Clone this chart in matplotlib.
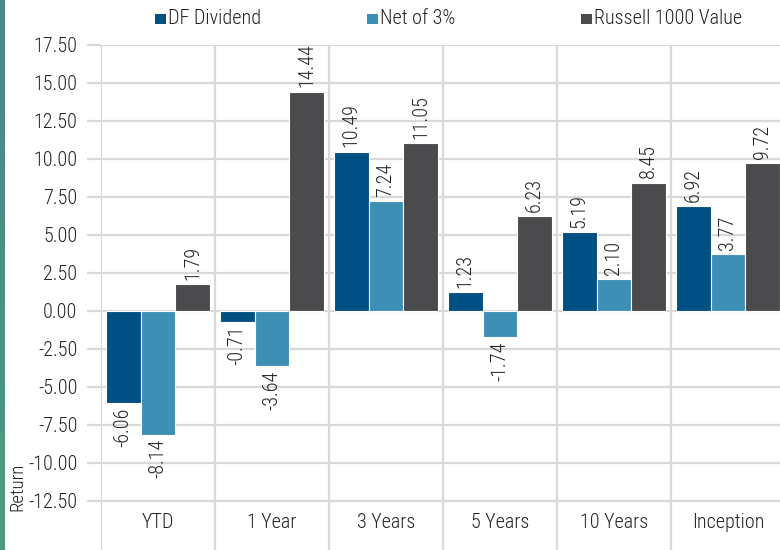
import numpy as np
import matplotlib
matplotlib.use("Agg")
import matplotlib.pyplot as plt
from matplotlib import font_manager
from matplotlib.patches import Rectangle

# ---------------- Data ----------------
categories = ["YTD", "1 Year", "3 Years", "5 Years", "10 Years", "Inception"]
series_names = ["DF Dividend", "Net of 3%", "Russell 1000 Value"]
df_dividend = [-6.06, -0.71, 10.49, 1.23, 5.19, 6.92]
net_of_3 = [-8.14, -3.64, 7.24, -1.74, 2.10, 3.77]
russell_value = [1.79, 14.44, 11.05, 6.23, 8.45, 9.72]
yticks = [-12.5, -10.0, -7.5, -5.0, -2.5, 0.0, 2.5, 5.0, 7.5, 10.0, 12.5, 15.0, 17.5]

# ---------------- Style ----------------
COLORS = ["#005083", "#3d8fb5", "#4b4b4d"]
GRID = "#d9d9d9"
TEXT = "#222222"

fonts = font_manager.fontManager.ttflist
names = {f.name for f in fonts}
FONT = "Roboto"
for cand in ["Roboto Condensed", "Archivo Narrow", "IBM Plex Sans Condensed",
             "Liberation Sans Narrow"]:
    if cand in names:
        FONT = cand
        break
has_light = any(f.name == FONT and f.weight == 300 and f.style == "normal" for f in fonts)
plt.rcParams["font.family"] = [FONT, "DejaVu Sans"]
plt.rcParams["font.weight"] = 300 if has_light else "normal"
FS = 14.5

W, H = 780, 550
fig = plt.figure(figsize=(W / 100, H / 100), dpi=100, facecolor="white")

# teal stripe on the left edge
sax = fig.add_axes([0, 0, 5 / W, 1])
grad = np.linspace(0, 1, 100).reshape(-1, 1)
sax.imshow(grad, aspect="auto", cmap=matplotlib.colors.LinearSegmentedColormap.from_list(
    "stripe", ["#4a868b", "#4e9a80"]), extent=[0, 1, 0, 1], origin="upper")
sax.axis("off")

# main axes: -12.5 at y=501px, 17.5 at y=45px
px_per_unit = (501 - 45) / 30.0
ymin = -12.5 - (H - 501) / px_per_unit
ax = fig.add_axes([101 / W, 0, 684 / W, (H - 45) / H])
ax.set_xlim(-0.5, len(categories) - 0.5)
ax.set_ylim(ymin, 17.5)

x = np.arange(len(categories))
bw = 0.304
all_series = [df_dividend, net_of_3, russell_value]
for k, (vals, col) in enumerate(zip(all_series, COLORS)):
    bars = ax.bar(x + (k - 1) * bw, vals, width=bw, color=col, edgecolor="white",
                  linewidth=0.8, zorder=3)
    for b, v in zip(bars, vals):
        cx = b.get_x() + b.get_width() / 2
        ax.annotate(f"{v:.2f}", (cx, v), xytext=(0, 3 if v >= 0 else -3),
                    textcoords="offset points", rotation=90, ha="center",
                    va="bottom" if v >= 0 else "top", fontsize=FS, color=TEXT,
                    zorder=4)

# grid lines
for t in yticks:
    ax.axhline(t, color=GRID, lw=1.6, zorder=1)
for b in np.arange(-0.5, len(categories), 1.0):
    ax.axvline(b, color=GRID, lw=1.6, zorder=1)

ax.set_yticks(yticks)
ax.set_yticklabels([f"{t:.2f}" for t in yticks])
ax.tick_params(axis="y", length=10, width=1.6, color=GRID, pad=7,
               labelsize=FS, labelcolor=TEXT)
ax.set_xticks([])
for s in ax.spines.values():
    s.set_visible(False)

label_y = -12.5 - 21 / px_per_unit
for i, c in enumerate(categories):
    ax.text(i, label_y, c, ha="center", va="center", fontsize=FS, color=TEXT)

fig.text(17 / W, 1 - 487 / H, "Return", rotation=90, ha="center", va="center",
         fontsize=13.5, color=TEXT)

# legend, laid out in fixed-width slots like the original
leg_x = [155, 367, 581]
leg_y = 19
for lx, name, col in zip(leg_x, series_names, COLORS):
    fig.patches.append(Rectangle((lx / W, 1 - (leg_y + 5) / H), 11 / W, 10 / H,
                                 transform=fig.transFigure, facecolor=col,
                                 edgecolor="none"))
    fig.text((lx + 13) / W, 1 - leg_y / H, name, ha="left", va="center",
             fontsize=FS, color=TEXT)

fig.savefig("out.png", dpi=100, facecolor="white")
